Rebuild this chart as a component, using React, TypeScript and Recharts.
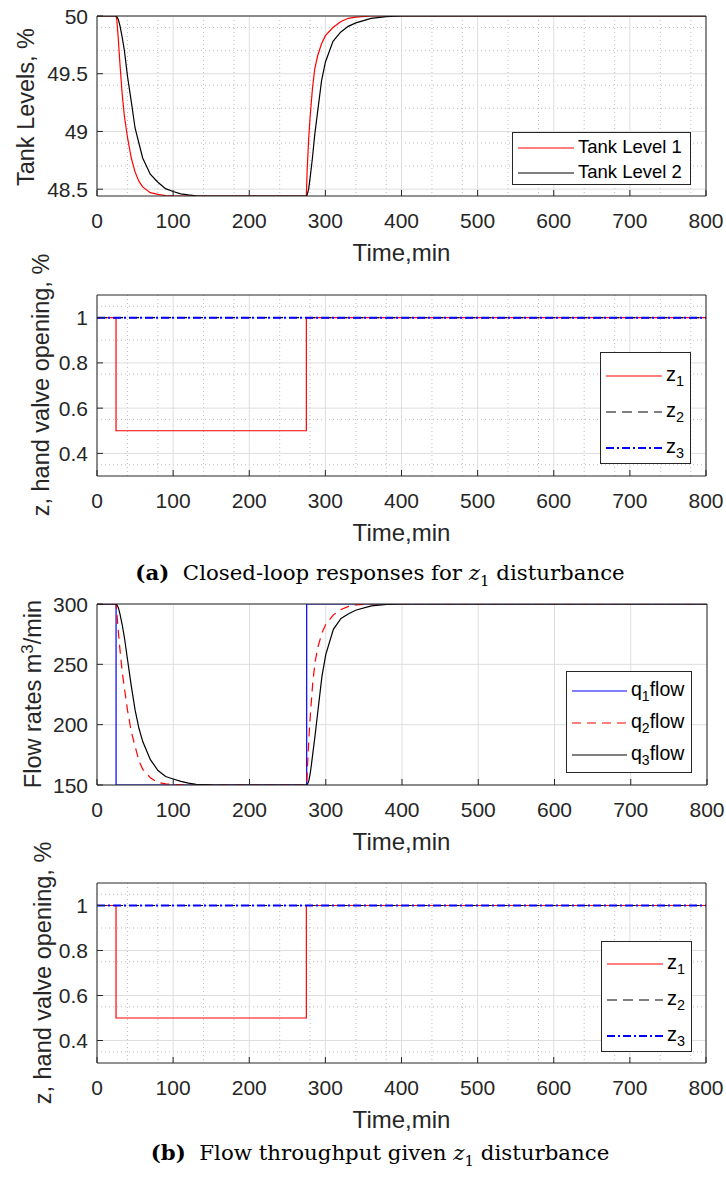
import { LineChart, Line, XAxis, YAxis, CartesianGrid, Legend } from "recharts";

// time samples (min) for the smooth responses
const TIME = [
  0, 25, 26, 28, 30, 33, 36, 40, 45, 50, 55, 60, 70, 80, 90, 100, 110, 120, 130, 150,
  200, 250, 275, 276, 278, 280, 283, 286, 290, 295, 300, 310, 320, 330, 340, 360, 380, 400,
  500, 600, 700, 800,
];

const TANK_LEVEL_1 = [
  50, 50, 49.97, 49.8, 49.6, 49.33, 49.13, 48.95, 48.77, 48.65, 48.57, 48.52, 48.47, 48.455,
  48.445, 48.442, 48.441, 48.441, 48.441, 48.441, 48.441, 48.441, 48.441, 48.65, 48.93, 49.13,
  49.37, 49.54, 49.66, 49.76, 49.83, 49.9, 49.95, 49.98, 49.99, 50, 50, 50, 50, 50, 50, 50,
];

const TANK_LEVEL_2 = [
  50, 50, 49.995, 49.97, 49.92, 49.82, 49.7, 49.48, 49.26, 49.03, 48.9, 48.77, 48.63, 48.56,
  48.505, 48.48, 48.46, 48.45, 48.443, 48.441, 48.441, 48.441, 48.441, 48.45, 48.5, 48.6,
  48.77, 48.97, 49.18, 49.44, 49.6, 49.78, 49.86, 49.91, 49.94, 49.98, 49.995, 50, 50, 50, 50, 50,
];

const Q2_FLOW = [
  300, 300, 293, 277, 263, 244, 230, 212, 194, 182, 170, 163, 156, 152, 151, 150.3, 150.1, 150,
  150, 150, 150, 150, 150, 165, 190, 210, 235, 252, 265, 276, 283, 291, 295.5, 298, 299.3, 300,
  300, 300, 300, 300, 300, 300,
];

const Q3_FLOW = [
  300, 300, 299.5, 297, 292, 283, 272, 254, 232, 212, 197, 186, 171, 162, 157, 155, 153, 151.5,
  150.5, 150.1, 150, 150, 150, 150.5, 154, 161, 176, 191, 213, 240, 258, 279, 288, 292, 295,
  298.5, 299.7, 300, 300, 300, 300, 300,
];

// step signals
const STEP_TIME = [0, 25, 25, 275, 275, 800];
const Q1_FLOW = [300, 300, 150, 150, 300, 300];
const Z1 = [1, 1, 0.5, 0.5, 1, 1];
const CONST_TIME = [0, 800];
const Z2 = [1, 1];
const Z3 = [1, 1];

const X_TICKS = [0, 100, 200, 300, 400, 500, 600, 700, 800];
const X_MINOR = [20, 40, 60, 80, 120, 140, 160, 180, 220, 240, 260, 280, 320, 340, 360, 380, 420, 440, 460, 480, 520, 540, 560, 580, 620, 640, 660, 680, 720, 740, 760, 780];
const LEVEL_TICKS = [48.5, 49, 49.5, 50];
const LEVEL_MINOR = [48.6, 48.7, 48.8, 48.9, 49.1, 49.2, 49.3, 49.4, 49.6, 49.7, 49.8, 49.9];
const Z_TICKS = [0.4, 0.6, 0.8, 1];
const Z_MINOR = [0.35, 0.45, 0.5, 0.55, 0.65, 0.7, 0.75, 0.85, 0.9, 0.95, 1.05];
const FLOW_TICKS = [150, 200, 250, 300];

const toRows = (ts: number[], vs: number[]) => ts.map((t, i) => ({ t, v: vs[i] }));

const AX = "#262626";
const FONT = "'Liberation Sans', Arial, sans-serif";
const TICK_FS = 21;

function XTick({ x, y, payload }: any) {
  return (
    <text x={x} y={y} dy="0.72em" textAnchor="middle" fill={AX} style={{ fontSize: TICK_FS, fontFamily: FONT }}>
      {payload.value}
    </text>
  );
}

function YTick({ x, y, payload }: any) {
  return (
    <text x={x} y={y} dy="0.36em" textAnchor="end" fill={AX} style={{ fontSize: TICK_FS, fontFamily: FONT }}>
      {payload.value}
    </text>
  );
}

function LegendBox({ entries, rowH, padTop, sampleW, fontSize }: any) {
  return (
    <div
      style={{
        width: "100%",
        height: "100%",
        boxSizing: "border-box",
        border: `1px solid ${AX}`,
        background: "#fff",
        paddingTop: padTop,
        paddingLeft: 5,
        fontFamily: FONT,
        fontSize,
        color: "#000",
      }}
    >
      {entries.map((e: any, i: number) => (
        <div key={i} style={{ display: "flex", alignItems: "center", height: rowH }}>
          <svg width={sampleW} height={6} style={{ marginRight: 4, flexShrink: 0 }}>
            <line x1={0} y1={3} x2={sampleW} y2={3} stroke={e.color} strokeWidth={e.width} strokeDasharray={e.dash} />
          </svg>
          <span style={{ whiteSpace: "nowrap", lineHeight: 1 }}>{e.label}</span>
        </div>
      ))}
    </div>
  );
}

// plot area: 16px top axis band, 55px bottom band for tick labels
function Panel({ top, plotH, yDomain, yTicks, yMinor, children, legend, rightW = 20 }: any) {
  return (
    <div style={{ position: "absolute", left: 0, top, fontSize: TICK_FS, fontFamily: FONT }}>
      <LineChart width={726} height={plotH + 16 + 55} margin={{ top: 0, right: 0, bottom: 0, left: 0 }}>
        {yMinor && (
          <CartesianGrid
            stroke="#bdbdbd"
            strokeDasharray="1 3"
            verticalValues={X_MINOR}
            horizontalValues={yMinor}
          />
        )}
        <CartesianGrid stroke="#dedede" verticalValues={X_TICKS} horizontalValues={yTicks} />
        <XAxis
          dataKey="t"
          type="number"
          domain={[0, 800]}
          ticks={X_TICKS}
          allowDuplicatedCategory={false}
          height={55}
          stroke={AX}
          fontSize={TICK_FS}
          tickSize={-6}
          tickMargin={23}
          tick={<XTick />}
        />
        <XAxis
          xAxisId="top"
          orientation="top"
          type="number"
          domain={[0, 800]}
          ticks={X_TICKS}
          height={16}
          stroke={AX}
          tickSize={-6}
          tick={false}
        />
        <YAxis
          type="number"
          domain={yDomain}
          ticks={yTicks}
          width={97}
          stroke={AX}
          fontSize={TICK_FS}
          tickSize={-6}
          tickMargin={15}
          tick={<YTick />}
          allowDataOverflow
        />
        <YAxis
          yAxisId="right"
          orientation="right"
          type="number"
          domain={yDomain}
          ticks={yTicks}
          width={rightW}
          stroke={AX}
          tickSize={-6}
          tick={false}
        />
        {children}
        <Legend
          layout="horizontal"
          verticalAlign="middle"
          align="center"
          wrapperStyle={{ left: legend.left, top: legend.top - top, width: legend.width, height: legend.height }}
          content={() => <LegendBox {...legend} />}
        />
      </LineChart>
    </div>
  );
}

function Sub({ c, s }: any) {
  return (
    <span>
      {c}
      <sub style={{ fontSize: "0.72em", verticalAlign: "-0.35em" }}>{s}</sub>
    </span>
  );
}

function YLabel({ x, y, children }: any) {
  return (
    <div
      style={{
        position: "absolute",
        left: x,
        top: y,
        transform: "translate(-50%, -50%) rotate(-90deg)",
        whiteSpace: "nowrap",
        fontSize: 23.5,
        color: AX,
        fontFamily: FONT,
      }}
    >
      {children}
    </div>
  );
}

function XLabel({ y }: any) {
  return (
    <div
      style={{
        position: "absolute",
        left: 401.5,
        top: y,
        transform: "translate(-50%, -50%)",
        whiteSpace: "nowrap",
        fontSize: 24,
        color: AX,
        fontFamily: FONT,
      }}
    >
      Time,min
    </div>
  );
}

function Caption({ y, tag, text }: any) {
  return (
    <div
      style={{
        position: "absolute",
        left: 380,
        top: y,
        transform: "translate(-50%, -50%)",
        whiteSpace: "nowrap",
        fontSize: 21.3,
        color: "#000",
        fontFamily: "'DejaVu Serif', serif",
      }}
    >
      <b>({tag})</b>&nbsp; {text} <i>z</i>
      <sub style={{ fontSize: "0.7em" }}>1</sub> disturbance
    </div>
  );
}

const zEntries = [
  { label: <Sub c="z" s="1" />, color: "#ff0000", width: 1.2 },
  { label: <Sub c="z" s="2" />, color: "#000", width: 1.2, dash: "10 6" },
  { label: <Sub c="z" s="3" />, color: "#0000ff", width: 2, dash: "8 3 2 3" },
];

function ZLines() {
  return [
    <Line key="z1" data={toRows(STEP_TIME, Z1)} dataKey="v" stroke="#ff0000" strokeWidth={1.2} dot={false} isAnimationActive={false} />,
    <Line key="z2" data={toRows(CONST_TIME, Z2)} dataKey="v" stroke="#000" strokeWidth={1.2} strokeDasharray="10 6" dot={false} isAnimationActive={false} />,
    <Line key="z3" data={toRows(CONST_TIME, Z3)} dataKey="v" stroke="#0000ff" strokeWidth={2} strokeDasharray="8 3 2 3" dot={false} isAnimationActive={false} />,
  ];
}

export default function App() {
  return (
    <div style={{ position: "absolute", left: 0, top: 0, width: 726, height: 1179, background: "#fff", fontFamily: FONT }}>
      <Panel
        top={0}
        plotH={180}
        yDomain={[48.441, 50]}
        yTicks={LEVEL_TICKS}
        yMinor={LEVEL_MINOR}
        legend={{
          left: 512, top: 132, width: 179, height: 53, rowH: 25, padTop: 2, sampleW: 56, fontSize: 18.5,
          entries: [
            { label: "Tank Level 1", color: "#ff0000", width: 1.2 },
            { label: "Tank Level 2", color: "#000", width: 1.2 },
          ],
        }}
      >
        <Line data={toRows(TIME, TANK_LEVEL_1)} dataKey="v" stroke="#ff0000" strokeWidth={1.2} dot={false} isAnimationActive={false} />
        <Line data={toRows(TIME, TANK_LEVEL_2)} dataKey="v" stroke="#000" strokeWidth={1.2} dot={false} isAnimationActive={false} />
      </Panel>

      <Panel
        top={279}
        plotH={181}
        yDomain={[0.3, 1.1]}
        yTicks={Z_TICKS}
        yMinor={Z_MINOR}
        legend={{ left: 600, top: 352, width: 91, height: 112, rowH: 36, padTop: 5, sampleW: 56, fontSize: 20, entries: zEntries }}
      >
        {ZLines()}
      </Panel>

      <Panel
        top={588}
        plotH={181}
        yDomain={[150, 300]}
        yTicks={FLOW_TICKS}
        rightW={19}
        legend={{
          left: 566, top: 671, width: 126, height: 102, rowH: 32, padTop: 3, sampleW: 55, fontSize: 19.5,
          entries: [
            { label: <span><Sub c="q" s="1" />flow</span>, color: "#0000ff", width: 1.2 },
            { label: <span><Sub c="q" s="2" />flow</span>, color: "#ff0000", width: 1.2, dash: "9 6" },
            { label: <span><Sub c="q" s="3" />flow</span>, color: "#000", width: 1.2 },
          ],
        }}
      >
        <Line data={toRows(STEP_TIME, Q1_FLOW)} dataKey="v" stroke="#0000ff" strokeWidth={1.2} dot={false} isAnimationActive={false} />
        <Line data={toRows(TIME, Q2_FLOW)} dataKey="v" stroke="#ff0000" strokeWidth={1.2} strokeDasharray="9 6" dot={false} isAnimationActive={false} />
        <Line data={toRows(TIME, Q3_FLOW)} dataKey="v" stroke="#000" strokeWidth={1.2} dot={false} isAnimationActive={false} />
      </Panel>

      <Panel
        top={867}
        plotH={180}
        yDomain={[0.3, 1.1]}
        yTicks={Z_TICKS}
        yMinor={Z_MINOR}
        legend={{ left: 601, top: 941, width: 91, height: 111, rowH: 36, padTop: 4, sampleW: 56, fontSize: 20, entries: zEntries }}
      >
        {ZLines()}
      </Panel>

      <YLabel x={26} y={107}>Tank Levels, %</YLabel>
      <YLabel x={41} y={385}>z, hand valve opening, %</YLabel>
      <YLabel x={33} y={694}>
        Flow rates m<sup style={{ fontSize: "0.72em", verticalAlign: "0.45em", lineHeight: 0 }}>3</sup>/min
      </YLabel>
      <YLabel x={43} y={973}>z, hand valve opening, %</YLabel>

      <XLabel y={253} />
      <XLabel y={533} />
      <XLabel y={842} />
      <XLabel y={1120} />

      <Caption y={575} tag="a" text="Closed-loop responses for" />
      <Caption y={1155} tag="b" text="Flow throughput given" />
    </div>
  );
}
